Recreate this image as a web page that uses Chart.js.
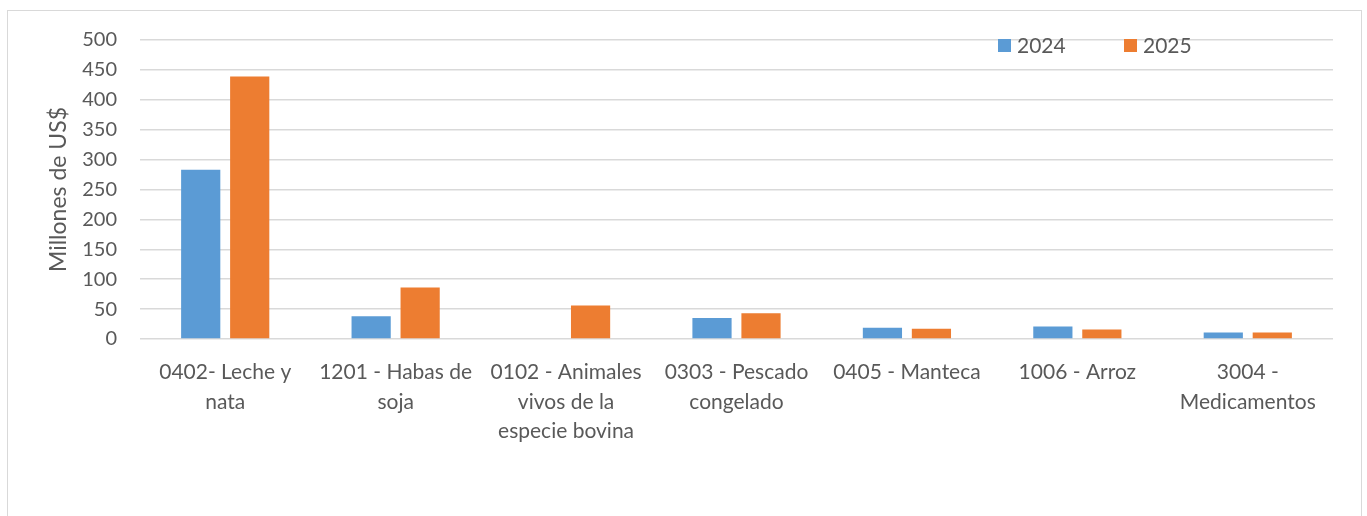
<!DOCTYPE html>
<html><head><meta charset="utf-8">
<script src="https://cdn.jsdelivr.net/npm/chart.js@4/dist/chart.umd.min.js"></script>
<style>html,body{margin:0;padding:0;background:#fff;overflow:hidden}#wrap{position:absolute;left:0;top:0;width:1367px;height:516px}</style>
</head><body><div id="wrap"><canvas id="c" width="1367" height="516"></canvas></div>
<script>
const categories = [["0402- Leche y","nata"],["1201 - Habas de","soja"],["0102 - Animales","vivos de la","especie bovina"],["0303 - Pescado","congelado"],["0405 - Manteca"],["1006 - Arroz"],["3004 -","Medicamentos"]];
const seriesNames = ["2024","2025"];
const values2024 = [283, 38, 0, 35, 19, 21, 11];
const values2025 = [439, 86, 56, 43, 17, 16, 11];
const yMin = 0, yMax = 500, yStep = 50;
const yTitle = "Millones de US$";
const colors = ["#5B9BD5", "#ED7D31"];
const FONT = "Lato, 'Open Sans', sans-serif";
const TXT = "#595959";

const borderPlugin = {
  id: 'frame',
  beforeDraw(chart) {
    const ctx = chart.ctx;
    ctx.save();
    ctx.fillStyle = '#fff';
    ctx.fillRect(0, 0, chart.width, chart.height);
    ctx.strokeStyle = '#d9d9d9';
    ctx.lineWidth = 1;
    ctx.strokeRect(7.5, 10.5, 1354, 600);
    ctx.restore();
  }
};
const legendPlugin = {
  id: 'customLegend',
  afterDraw(chart) {
    const ctx = chart.ctx;
    const xs = [998, 1124];
    ctx.save();
    ctx.font = "21px " + FONT;
    ctx.textBaseline = 'middle';
    ctx.textAlign = 'left';
    chart.data.datasets.forEach((ds, i) => {
      ctx.fillStyle = ds.backgroundColor;
      ctx.fillRect(xs[i], 39, 13, 13);
      ctx.fillStyle = TXT;
      ctx.fillText(ds.label, xs[i] + 19, 46);
    });
    ctx.restore();
  }
};

new Chart(document.getElementById('c'), {
  type: 'bar',
  data: {
    labels: categories,
    datasets: [
      { label: seriesNames[0], data: values2024, backgroundColor: colors[0], borderWidth: 0 },
      { label: seriesNames[1], data: values2025, backgroundColor: colors[1], borderWidth: 0 }
    ]
  },
  options: {
    responsive: false,
    animation: false,
    devicePixelRatio: 1,
    layout: { padding: { left: 0, top: 40, right: 34, bottom: 0 } },
    datasets: { bar: { categoryPercentage: 0.575, barPercentage: 0.8 } },
    plugins: { legend: { display: false }, tooltip: { enabled: false } },
    scales: {
      x: {
        grid: { display: false },
        border: { display: false },
        ticks: { color: TXT, font: { family: FONT, size: 21, lineHeight: 1.4 }, maxRotation: 0, minRotation: 0, autoSkip: false, padding: 11 },
        afterFit(scale) { scale.height = 177; }
      },
      y: {
        min: yMin, max: yMax,
        grid: { color: '#d9d9d9', lineWidth: 1.5, drawTicks: false },
        border: { display: false },
        ticks: { stepSize: yStep, color: TXT, font: { family: FONT, size: 20 }, padding: 23 },
        title: { display: true, text: yTitle, color: TXT, font: { family: FONT, size: 23 }, padding: { top: 45, bottom: 0 } },
        afterFit(scale) { scale.width = 140; }
      }
    }
  },
  plugins: [borderPlugin, legendPlugin]
});
</script>
</body></html>
